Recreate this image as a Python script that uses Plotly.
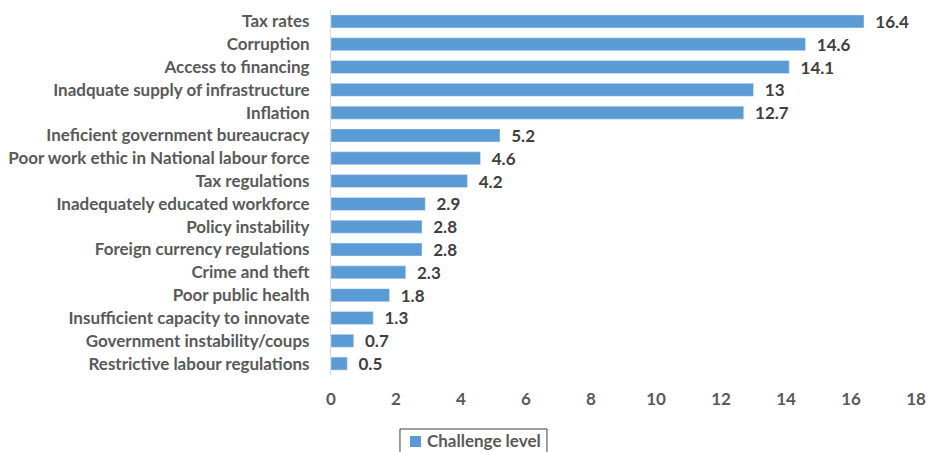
import plotly.graph_objects as go

categories = [
    "Tax rates",
    "Corruption",
    "Access to financing",
    "Inadquate supply of infrastructure",
    "Inflation",
    "Ineficient government bureaucracy",
    "Poor work ethic in National labour force",
    "Tax regulations",
    "Inadequately educated workforce",
    "Policy instability",
    "Foreign currency regulations",
    "Crime and theft",
    "Poor public health",
    "Insufficient capacity to innovate",
    "Government instability/coups",
    "Restrictive labour regulations",
]
challenge_level = [16.4, 14.6, 14.1, 13, 12.7, 5.2, 4.6, 4.2, 2.9, 2.8, 2.8, 2.3, 1.8, 1.3, 0.7, 0.5]
x_ticks = [0, 2, 4, 6, 8, 10, 12, 14, 16, 18]
series_name = "Challenge level"

FONT = "Lato"
GRAY = "#595959"
BAR = "#5B9BD5"
SIZE = 17

fig = go.Figure(
    go.Bar(
        x=challenge_level,
        y=categories,
        orientation="h",
        name=series_name,
        marker=dict(color=BAR),
        width=0.57,
        text=[f"{v:g}" for v in challenge_level],
        texttemplate="  %{text}",
        textposition="outside",
        constraintext="none",
        textfont=dict(family=FONT, size=SIZE, color="#404040", weight="bold"),
        cliponaxis=False,
        showlegend=False,
    )
)

# Boxed legend below the axis: frame, colour swatch and series name
fig.add_shape(
    type="rect", xref="paper", yref="paper",
    x0=0.1179, x1=0.3692, y0=-0.1479, y1=-0.26,
    line=dict(color="#404040", width=1), fillcolor="white",
)
fig.add_shape(
    type="rect", xref="paper", yref="paper",
    x0=0.1350, x1=0.1538, y0=-0.1671, y1=-0.1973,
    line=dict(width=0), fillcolor=BAR,
)
fig.add_annotation(
    xref="paper", yref="paper",
    x=0.1607, y=-0.1808,
    xanchor="left", yanchor="middle",
    text=series_name,
    showarrow=False,
    font=dict(family=FONT, size=SIZE, color=GRAY, weight="bold"),
)

fig.update_layout(
    width=927,
    height=452,
    margin=dict(l=331, r=11, t=10, b=77, autoexpand=False),
    paper_bgcolor="white",
    plot_bgcolor="white",
    font=dict(family=FONT, size=SIZE, color=GRAY, weight="bold"),
    showlegend=False,
)

fig.update_xaxes(
    range=[0, 18],
    tickvals=x_ticks,
    showgrid=False,
    zeroline=False,
    showline=False,
    automargin=False,
    ticklabelstandoff=12,
    tickfont=dict(family=FONT, size=SIZE, color=GRAY, weight="bold"),
)
fig.update_yaxes(
    autorange="reversed",
    showgrid=False,
    showline=True,
    linecolor="#D9D9D9",
    linewidth=1,
    ticks="",
    automargin=False,
    ticklabelstandoff=17,
    tickfont=dict(family=FONT, size=SIZE, color=GRAY, weight="bold"),
)

fig.write_html("out.html")
